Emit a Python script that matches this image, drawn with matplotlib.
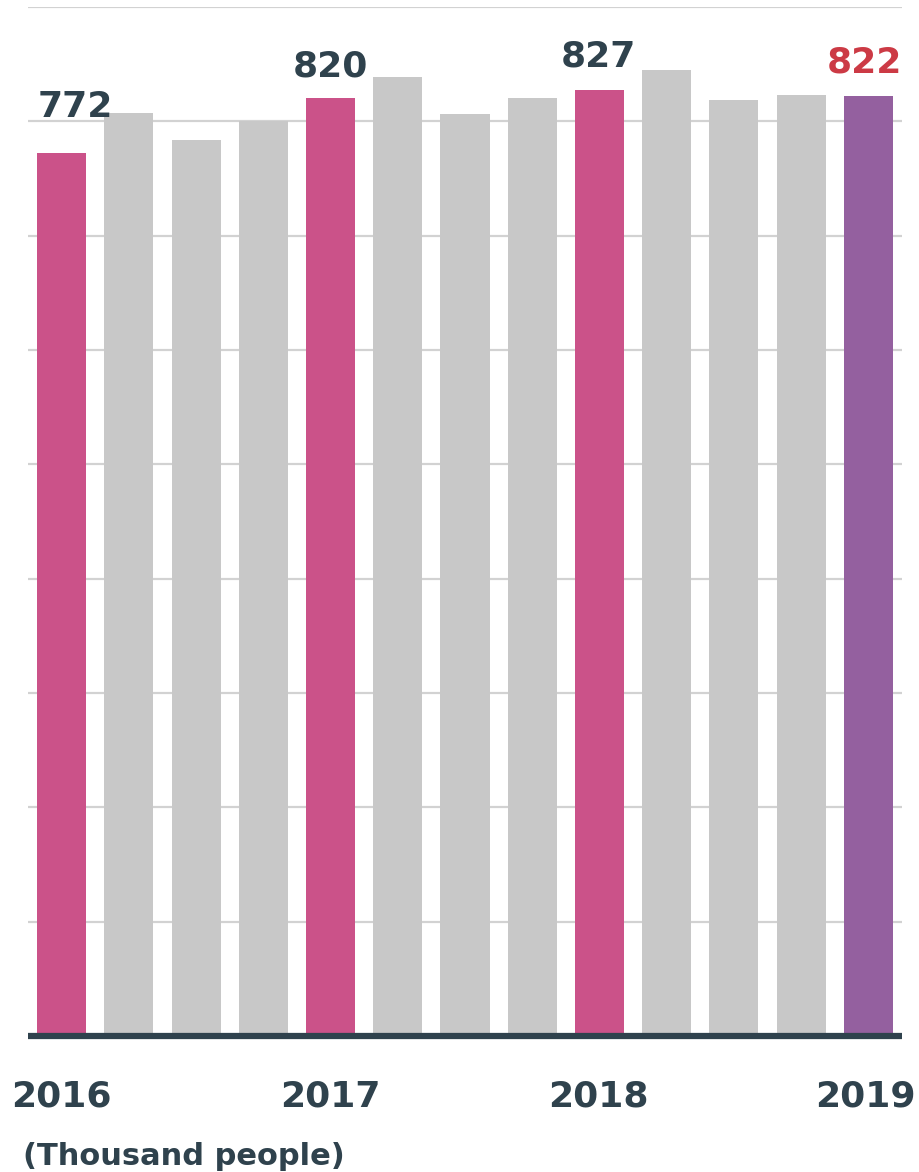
import matplotlib
matplotlib.use("Agg")
import matplotlib.pyplot as plt

plt.rcParams['font.family'] = ['DejaVu Sans']
plt.rcParams['font.weight'] = 'bold'

# quarterly headcount, thousand people
values = [772, 807, 784, 800, 820, 839, 806, 820, 827, 845, 819, 823, 822]
kinds = ['year', 'q', 'q', 'q', 'year', 'q', 'q', 'q', 'year', 'q', 'q', 'q', 'latest']
year_labels = ['2016', '2017', '2018', '2019']
year_pos = [0, 4, 8, 12]
unit_label = '(Thousand people)'

bar_color = {'year': '#CB5289', 'q': '#C8C8C8', 'latest': '#94609F'}
dark = '#2F424D'

fig = plt.figure(figsize=(9.2, 11.72), dpi=100)
ax = fig.add_axes([28/920, 136/1172, 874/920, 1029/1172])

xs = list(range(len(values)))
ax.bar(xs, values, width=0.73, color=[bar_color[k] for k in kinds], zorder=2)

ax.set_xlim(-0.5, len(values) - 0.5)
ax.set_ylim(0, 900)
ax.set_yticks(range(0, 901, 100))
ax.yaxis.grid(True, color='#D2D2D2', lw=1.6, zorder=0)
ax.set_axisbelow(True)
for s in ['left', 'right', 'top']:
    ax.spines[s].set_visible(False)
ax.spines['bottom'].set_color(dark)
ax.spines['bottom'].set_linewidth(4.5)
ax.spines['bottom'].set_capstyle('butt')
ax.spines['bottom'].set_zorder(3)
ax.tick_params(left=False, bottom=False, labelleft=False, labelbottom=False)

# value labels on the yearly bars (offsets in points)
label_offsets = {0: (10, 26), 4: (0, 16), 8: (-1, 17), 12: (-3, 17)}
for i, (dx, dy) in label_offsets.items():
    col = '#CC3A45' if kinds[i] == 'latest' else dark
    ax.annotate(str(values[i]), xy=(i, values[i]), xytext=(dx, dy),
                textcoords='offset points', ha='center', va='baseline',
                fontsize=26, fontweight='bold', color=col)

# year labels under the axis; the last one is nudged in from the edge
year_dx = [0, 0, -1, -2]
for p, lab, dx in zip(year_pos, year_labels, year_dx):
    ax.annotate(lab, xy=(p, 0), xycoords=('data', 'axes fraction'),
                xytext=(dx, -51), textcoords='offset points',
                ha='center', va='baseline', fontsize=26, fontweight='bold', color=dark)

fig.text(23/920, 1 - 1165/1172, unit_label, ha='left', va='baseline',
         fontsize=22, fontweight='bold', color=dark)

fig.savefig('out.png', dpi=100)
